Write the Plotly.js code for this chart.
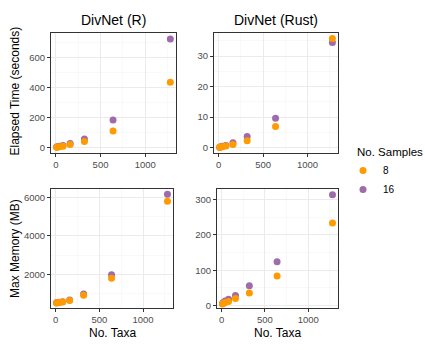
<!DOCTYPE html>
<html>
<head>
<meta charset="utf-8">
<script src="https://cdn.plot.ly/plotly-3.0.1.min.js"></script>
<style>html,body{margin:0;padding:0;background:#fff;}#chart{width:425px;height:350px;}</style>
</head>
<body>
<div id="chart"></div>
<script>
// Data
const taxa = [10, 20, 40, 80, 160, 320, 640, 1280];
const timeR8 = [2, 3, 5, 8, 20, 40, 111, 437];
const timeR16 = [3, 5, 8, 14, 27, 58, 184, 727];
const timeRust8 = [0.1, 0.2, 0.3, 0.5, 1.0, 2.2, 6.9, 35.8];
const timeRust16 = [0.1, 0.2, 0.4, 0.7, 1.6, 3.6, 9.6, 34.5];
const memR8 = [510, 520, 530, 560, 640, 910, 1790, 5790];
const memR16 = [520, 530, 545, 580, 660, 980, 1980, 6160];
const memRust8 = [5, 7, 9, 12, 20, 36, 84, 233];
const memRust16 = [6, 9, 13, 18, 29, 56, 124, 313];
const sampleLabels = ['8', '16'];
const panelTitles = ['DivNet (R)', 'DivNet (Rust)'];
const rowTitles = ['Elapsed Time (seconds)', 'Max Memory (MB)'];
const xTitle = 'No. Taxa';
const legendTitle = 'No. Samples';

const C8 = '#FF9A00', C16 = '#9E6CAA';
const FONT = 'Liberation Sans, Arial, sans-serif';

function tr(y, label, color, xa, ya, show) {
  return {x: taxa, y: y, type: 'scatter', mode: 'markers', name: label,
    legendgroup: label, showlegend: show, xaxis: xa, yaxis: ya,
    marker: {color: color, size: 7}, hoverinfo: 'x+y'};
}
const data = [
  tr(timeR16, sampleLabels[1], C16, 'x', 'y', true),
  tr(timeR8, sampleLabels[0], C8, 'x', 'y', true),
  tr(timeRust16, sampleLabels[1], C16, 'x2', 'y2', false),
  tr(timeRust8, sampleLabels[0], C8, 'x2', 'y2', false),
  tr(memR16, sampleLabels[1], C16, 'x3', 'y3', false),
  tr(memR8, sampleLabels[0], C8, 'x3', 'y3', false),
  tr(memRust16, sampleLabels[1], C16, 'x4', 'y4', false),
  tr(memRust8, sampleLabels[0], C8, 'x4', 'y4', false)
];

function ax(domain, range, dtick, anchor) {
  return {domain: domain, range: range, dtick: dtick, tick0: 0, anchor: anchor,
    showline: true, mirror: true, linecolor: '#333333', linewidth: 1,
    showgrid: true, gridcolor: '#EBEBEB', gridwidth: 1, zeroline: false,
    minor: {showgrid: true, dtick: dtick / 2, gridcolor: '#F4F4F4', gridwidth: 0.5},
    ticks: 'outside', ticklen: 3, tickcolor: '#333333', tickwidth: 1,
    tickfont: {family: FONT, size: 9.5, color: '#4D4D4D'}, fixedrange: true};
}
const W = 425, H = 350;
const xr = [-53.5, 1343.5];
function ann(text, px, py, size, angle) {
  return {text: text, x: px / W, y: 1 - py / H, xref: 'paper', yref: 'paper',
    xanchor: 'center', yanchor: 'middle', showarrow: false, textangle: angle || 0,
    font: {family: FONT, size: size, color: '#000'}};
}
const layout = {
  width: W, height: H, margin: {l: 0, r: 0, t: 0, b: 0},
  paper_bgcolor: '#fff', plot_bgcolor: '#fff',
  font: {family: FONT},
  xaxis: ax([51/W, 176/W], xr, 500, 'y'),
  yaxis: ax([1-153/H, 1-33/H], [-36.5, 766.5], 200, 'x'),
  xaxis2: ax([214/W, 338/W], xr, 500, 'y2'),
  yaxis2: ax([1-153/H, 1-33/H], [-1.79, 37.6], 10, 'x2'),
  xaxis3: ax([51/W, 173/W], xr, 500, 'y3'),
  yaxis3: ax([1-308/H, 1-189/H], [249, 6431], 2000, 'x3'),
  xaxis4: ax([217/W, 338/W], xr, 500, 'y4'),
  yaxis4: ax([1-308/H, 1-189/H], [-6.5, 329], 100, 'x4'),
  showlegend: true,
  legend: {x: 343/W, y: 1-156/H, xanchor: 'left', yanchor: 'top',
    traceorder: 'reversed', bgcolor: 'rgba(0,0,0,0)',
    font: {family: FONT, size: 10, color: '#000'}},
  annotations: [
    ann(panelTitles[0], 113.5, 20, 14),
    ann(panelTitles[1], 276, 20, 14),
    ann(rowTitles[0], 14.5, 91, 12, -90),
    ann(rowTitles[1], 14.5, 248.5, 12, -90),
    ann(xTitle, 112, 333, 12),
    ann(xTitle, 277.5, 333, 12),
    {text: legendTitle, x: 355 / W, y: 1 - 152 / H, xref: 'paper', yref: 'paper',
      xanchor: 'left', yanchor: 'middle', showarrow: false,
      font: {family: FONT, size: 11.5, color: '#000'}}
  ]
};
Plotly.newPlot('chart', data, layout, {staticPlot: true, displayModeBar: false});
</script>
</body>
</html>
